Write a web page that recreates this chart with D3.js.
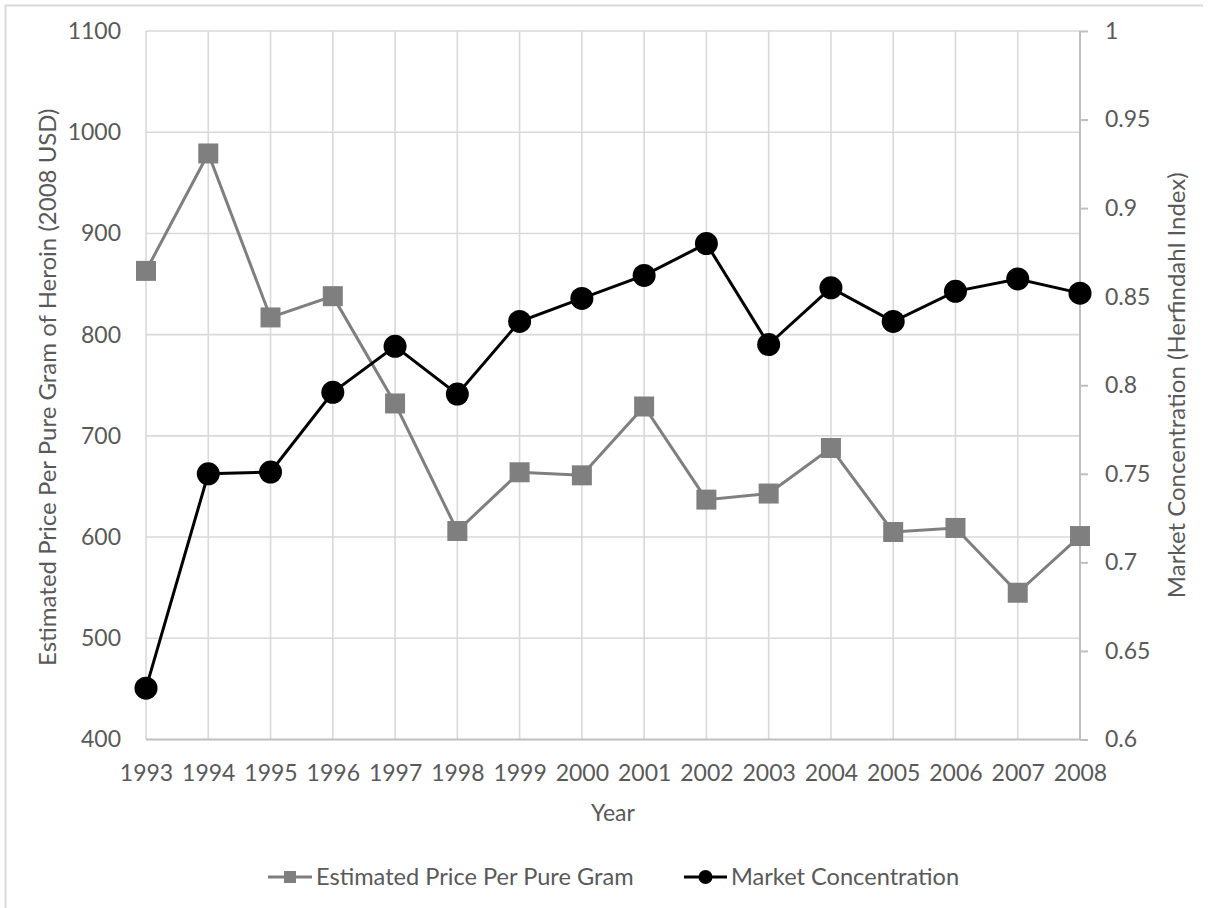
<!DOCTYPE html>
<html>
<head>
<meta charset="utf-8">
<script src="https://cdn.jsdelivr.net/npm/d3@7"></script>
<style>
  html, body { margin: 0; padding: 0; background: #fff; }
  svg { display: block; }
  text { font-family: Lato, "Noto Sans", sans-serif; fill: #595959; }
</style>
</head>
<body>
<svg id="chart" width="1212" height="908"></svg>
<script>
// Heroin price vs. market concentration, 1993–2008
const years = [1993, 1994, 1995, 1996, 1997, 1998, 1999, 2000, 2001, 2002, 2003, 2004, 2005, 2006, 2007, 2008];
const pricePerGram = [863, 979, 817, 838, 732, 606, 664, 661, 729, 637, 643, 688, 605, 609, 545, 601];
const concentration = [0.629, 0.750, 0.751, 0.796, 0.822, 0.795, 0.836, 0.849, 0.862, 0.880, 0.823, 0.855, 0.836, 0.853, 0.860, 0.852];
const leftTicks = [400, 500, 600, 700, 800, 900, 1000, 1100];
const rightTicks = [0.6, 0.65, 0.7, 0.75, 0.8, 0.85, 0.9, 0.95, 1];
const seriesNames = ["Estimated Price Per Pure Gram", "Market Concentration"];

const svg = d3.select("#chart");
const plot = { left: 146, right: 1080, top: 31, bottom: 739.5 };

const x = d3.scalePoint().domain(years).range([plot.left, plot.right]);
const yL = d3.scaleLinear().domain([400, 1100]).range([plot.bottom, plot.top]);
const yR = d3.scaleLinear().domain([0.6, 1]).range([plot.bottom, plot.top]);

const gridColor = "#d9d9d9";
const axisColor = "#bfbfbf";
const priceColor = "#7f7f7f";
const concColor = "#000000";
const tickSize = 23;

// outer frame (top and left edges)
svg.append("line").attr("x1", 5).attr("x2", 1203).attr("y1", 5.5).attr("y2", 5.5)
  .attr("stroke", gridColor).attr("stroke-width", 2);
svg.append("line").attr("x1", 5.5).attr("x2", 5.5).attr("y1", 5).attr("y2", 908)
  .attr("stroke", gridColor).attr("stroke-width", 2);

// horizontal gridlines
svg.append("g").selectAll("line").data(leftTicks.filter(d => d !== 400)).join("line")
  .attr("x1", plot.left).attr("x2", plot.right)
  .attr("y1", d => yL(d)).attr("y2", d => yL(d))
  .attr("stroke", gridColor).attr("stroke-width", 1.6);

// vertical gridlines
svg.append("g").selectAll("line").data(years.slice(0, -1)).join("line")
  .attr("x1", d => x(d)).attr("x2", d => x(d))
  .attr("y1", plot.top).attr("y2", plot.bottom)
  .attr("stroke", gridColor).attr("stroke-width", 1.6);

// bottom axis
const xAxis = svg.append("g").attr("transform", `translate(0,${plot.bottom})`)
  .call(d3.axisBottom(x).tickSize(0).tickPadding(25).tickFormat(d3.format("d")));
xAxis.select(".domain").attr("stroke", axisColor).attr("stroke-width", 2)
  .attr("d", `M${plot.left},0H${plot.right}`);
xAxis.selectAll("text").style("font-size", tickSize + "px").attr("fill", "#595959");

// left axis (labels only)
const lAxis = svg.append("g").attr("transform", `translate(${plot.left},0)`)
  .call(d3.axisLeft(yL).tickValues(leftTicks).tickSize(0).tickPadding(25).tickFormat(d3.format("d")));
lAxis.select(".domain").remove();
lAxis.selectAll("text").style("font-size", tickSize + "px").attr("fill", "#595959");

// right axis
const rAxis = svg.append("g").attr("transform", `translate(${plot.right},0)`)
  .call(d3.axisRight(yR).tickValues(rightTicks).tickSize(8).tickPadding(17)
    .tickFormat(d => String(+d.toFixed(2))));
rAxis.select(".domain").attr("stroke", axisColor).attr("stroke-width", 2)
  .attr("d", `M0,${plot.top}V${plot.bottom}`);
rAxis.selectAll(".tick line").attr("stroke", axisColor).attr("stroke-width", 2);
rAxis.selectAll("text").style("font-size", tickSize + "px").attr("fill", "#595959");

// axis titles
svg.append("text")
  .attr("transform", `translate(56,${(plot.top + plot.bottom) / 2 + 2}) rotate(-90)`)
  .attr("text-anchor", "middle").style("font-size", "24px")
  .text("Estimated Price Per Pure Gram of Heroin (2008 USD)");
svg.append("text")
  .attr("transform", `translate(1166,${(plot.top + plot.bottom) / 2}) rotate(-90)`)
  .attr("text-anchor", "middle").attr("dominant-baseline", "hanging").style("font-size", "24px")
  .text("Market Concentration (Herfindahl Index)");
svg.append("text")
  .attr("x", (plot.left + plot.right) / 2).attr("y", 821)
  .attr("text-anchor", "middle").style("font-size", tickSize + "px")
  .text("Year");

// price series (left axis)
const priceData = years.map((yr, i) => ({ yr, v: pricePerGram[i] }));
svg.append("path").datum(priceData)
  .attr("fill", "none").attr("stroke", priceColor).attr("stroke-width", 3)
  .attr("d", d3.line().x(d => x(d.yr)).y(d => yL(d.v)));
svg.append("g").selectAll("rect").data(priceData).join("rect")
  .attr("x", d => x(d.yr) - 10).attr("y", d => yL(d.v) - 10)
  .attr("width", 20).attr("height", 20).attr("fill", priceColor);

// concentration series (right axis)
const concData = years.map((yr, i) => ({ yr, v: concentration[i] }));
svg.append("path").datum(concData)
  .attr("fill", "none").attr("stroke", concColor).attr("stroke-width", 3)
  .attr("d", d3.line().x(d => x(d.yr)).y(d => yR(d.v)));
svg.append("g").selectAll("circle").data(concData).join("circle")
  .attr("cx", d => x(d.yr)).attr("cy", d => yR(d.v)).attr("r", 11.5)
  .attr("fill", concColor);

// legend
const legendY = 877;
const legendSize = 23.6;
const lg1 = svg.append("g").attr("transform", `translate(268,${legendY})`);
lg1.append("line").attr("x1", 0).attr("x2", 44).attr("stroke", priceColor).attr("stroke-width", 3);
lg1.append("rect").attr("x", 16).attr("y", -6).attr("width", 12).attr("height", 12).attr("fill", priceColor);
lg1.append("text").attr("x", 48).attr("dy", "0.35em").style("font-size", legendSize + "px").text(seriesNames[0]);

const lg2 = svg.append("g").attr("transform", `translate(684,${legendY})`);
lg2.append("line").attr("x1", 0).attr("x2", 43).attr("stroke", concColor).attr("stroke-width", 3);
lg2.append("circle").attr("cx", 21.5).attr("cy", 0).attr("r", 7).attr("fill", concColor);
lg2.append("text").attr("x", 47).attr("dy", "0.35em").style("font-size", legendSize + "px").text(seriesNames[1]);
</script>
</body>
</html>
